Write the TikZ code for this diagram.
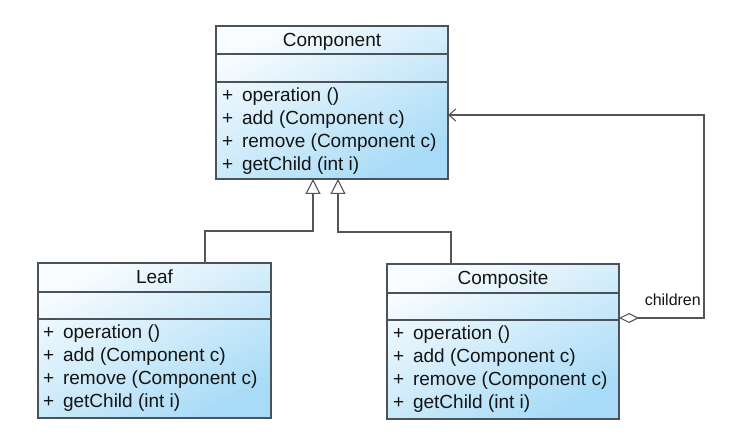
\documentclass[tikz,border=0pt]{standalone}
\usepackage{fontspec}
\setmainfont{Liberation Sans}
\usetikzlibrary{arrows.meta}
\definecolor{boxline}{HTML}{4A525A}
\definecolor{lightfill}{HTML}{F8FCFE}
\definecolor{darkfill}{HTML}{A8DBF7}
\definecolor{linkline}{HTML}{555555}
\definecolor{txt}{HTML}{141414}
\newcommand{\vis}{+\hspace{3.5pt} }
\tikzset{
  classbox/.style={draw=boxline, line width=1.1pt, inner sep=0pt, outer sep=0pt,
    top color=lightfill, bottom color=darkfill, shading angle=28},
  sepline/.style={draw=boxline, line width=1.1pt},
  titletext/.style={anchor=base, text=txt, inner sep=0pt, font=\fontsize{19}{22}\selectfont},
  opstext/.style={anchor=base west, text=txt, inner sep=0pt, font=\fontsize{19}{23}\selectfont},
  inh/.style={draw=linkline, line width=1.1pt, -{Triangle[open, length=15pt, width=15pt, fill=white]}},
  agg/.style={draw=linkline, line width=1.1pt,
    {Diamond[open, length=20pt, width=10pt, fill=white]}-{Straight Barb[length=7pt, width=12pt]}},
  lbltext/.style={anchor=base east, text=txt, inner sep=0pt, font=\fontsize{16}{18}\selectfont}
}
\begin{document}
\begin{tikzpicture}[x=1pt,y=-1pt]
\useasboundingbox (0,0) rectangle (739,435);
% class boxes
\node[classbox, minimum width=232pt, minimum height=153pt] (comp) at (332,102.5) {};
\node[classbox, minimum width=233pt, minimum height=155pt] (leaf) at (154.5,340.5) {};
\node[classbox, minimum width=232pt, minimum height=155pt] (cmp) at (503,341.5) {};
% compartments
\foreach \b/\s in {comp/28, leaf/29, cmp/29}{
  \draw[sepline] ([yshift=-\s pt]\b.north west) -- ([yshift=-\s pt]\b.north east);
  \draw[sepline] ([yshift=-56pt]\b.north west) -- ([yshift=-56pt]\b.north east);
}
% titles
\node[titletext] (comptitle) at ([yshift=-21pt]comp.north) {Component};
\node[titletext] (leaftitle) at ([yshift=-21pt]leaf.north) {Leaf};
\node[titletext] (cmptitle) at ([yshift=-21pt]cmp.north) {Composite};
% operations
\foreach \b/\dx in {comp/6, leaf/5, cmp/6}{
  \foreach \t [count=\i] in {{\vis operation ()},{\vis add (Component c)},{\vis remove (Component c)},{\vis getChild (int i)}}{
    \node[opstext] (\b-op\i) at ([xshift=\dx pt,yshift={-76pt-22.7pt*(\i-1)}]\b.north west) {\t};
  }
}
% generalizations
\draw[inh] ([xshift=50.5pt]leaf.north) -- ++(0,-32) -| ([xshift=-19pt]comp.south);
\draw[inh] ([xshift=-52pt]cmp.north) -- ++(0,-32) -| ([xshift=6pt]comp.south);
% aggregation
\draw[agg] ([yshift=23.5pt]cmp.east) -- ++(85,0) |- ([yshift=-12.5pt]comp.east);
\node[lbltext] (childlbl) at (701,306) {children};
\end{tikzpicture}
\end{document}
